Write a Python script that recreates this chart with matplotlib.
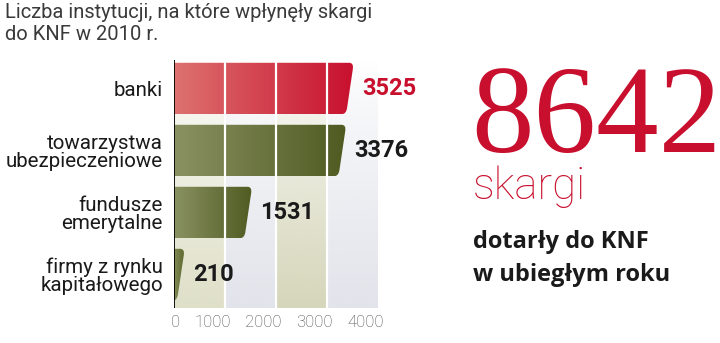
import numpy as np
import matplotlib
matplotlib.use("Agg")
import matplotlib.pyplot as plt
from matplotlib.patches import PathPatch
from matplotlib.path import Path
from matplotlib.colors import to_rgb
import matplotlib.transforms as mtransforms

# data
categories = ["banki", "towarzystwa\nubezpieczeniowe", "fundusze\nemerytalne",
              "firmy z rynku\nkapitałowego"]
values = [3525, 3376, 1531, 210]
xticks = [0, 1000, 2000, 3000, 4000]
total = "8642"

RED = "#c8102e"
bar_left = ["#dd7270", "#8a9262", "#8a9262", "#838c56"]
bar_right = ["#c8102e", "#4f5a21", "#4f5a21", "#5b652b"]
col_colors = ["#dfe0c8", "#e2e4eb", "#d5d6ba", "#e2e4eb"]

W, H = 720, 343
fig = plt.figure(figsize=(W / 100, H / 100), dpi=100)
fig.patch.set_facecolor("white")

def fx(px):
    return px / W

def fy(py):
    return 1 - py / H

ax = fig.add_axes([fx(174), fy(308), fx(378) - fx(174), fy(60) - fy(308)])
ymin, ymax = -0.46, 3.54
ax.set_xlim(0, 4000)
ax.set_ylim(ymax, ymin)

# background columns, fading to white towards the top
for i in range(len(xticks) - 1):
    rgba = np.zeros((100, 1, 4))
    rgba[:, 0, :3] = to_rgb(col_colors[i])
    rgba[:, 0, 3] = np.linspace(0, 1, 100) ** 0.8
    ax.imshow(rgba, extent=(xticks[i], xticks[i + 1], ymax, ymin),
              aspect="auto", origin="upper", zorder=0, interpolation="bilinear")

# bars: slanted right end with rounded corners, horizontal gradient
h = 0.83
slant = 150
rx, f = 90, 0.12
for i, v in enumerate(values):
    y0, y1 = i - h / 2, i + h / 2
    verts = [(0, y0), (v - rx, y0), (v, y0), (v - slant * f, y0 + h * f),
             (v - slant * (1 - f), y1 - h * f), (v - slant, y1),
             (max(v - slant - rx, 0), y1), (0, y1), (0, y0)]
    codes = [Path.MOVETO, Path.LINETO, Path.CURVE3, Path.CURVE3, Path.LINETO,
             Path.CURVE3, Path.CURVE3, Path.LINETO, Path.CLOSEPOLY]
    patch = PathPatch(Path(verts, codes), facecolor="none", edgecolor="none", zorder=2)
    ax.add_patch(patch)
    t = np.linspace(0, 1, 256)
    c0, c1 = np.array(to_rgb(bar_left[i])), np.array(to_rgb(bar_right[i]))
    grad = (c0[None, :] * (1 - t[:, None]) + c1[None, :] * t[:, None])[None, :, :]
    im = ax.imshow(grad, extent=(0, v, y1, y0), aspect="auto", origin="upper",
                   zorder=2, interpolation="bilinear")
    im.set_clip_path(patch)
    ax.annotate(str(v), xy=(v, i), xytext=(8, 0), textcoords="offset pixels",
                ha="left", va="center", fontsize=17, fontweight="bold",
                family="Roboto", color=RED if i == 0 else "#1a1a1a", zorder=5)

for x in xticks[1:-1]:
    ax.axvline(x, color="white", lw=1.6, zorder=3)
ax.axvline(0, color="black", lw=1.3, zorder=4)

ax.set_xlim(0, 4000)
ax.set_ylim(ymax, ymin)
for s in ax.spines.values():
    s.set_visible(False)

ax.set_yticks(range(len(categories)))
ax.set_yticklabels(categories, fontsize=14.8, family="Roboto", color="#1a1a1a",
                   linespacing=0.95)
ax.tick_params(axis="y", length=0, pad=8)

ax.set_xticks(xticks)
ax.set_xticklabels([str(x) for x in xticks], fontsize=12, family="Roboto",
                   fontweight="light", color="#4a4a4a")
ax.tick_params(axis="x", length=0, pad=5)
shift = mtransforms.ScaledTranslation(6 / 100, 0, fig.dpi_scale_trans)
for lab in ax.get_xticklabels():
    lab.set_horizontalalignment("right")
    lab.set_transform(lab.get_transform() + shift)

# title
fig.text(fx(5), fy(3), "Liczba instytucji, na które wpłynęły skargi\ndo KNF w 2010 r.",
         ha="left", va="top", fontsize=14.5, family="Roboto",
         color="#3a3a3a", linespacing=1.2)

# right side
fig.text(fx(471), fy(152), total, ha="left", va="baseline", fontsize=90,
         family="Liberation Serif", color=RED)
fig.text(fx(473), fy(199), "skargi", ha="left", va="baseline", fontsize=31.5,
         family="Roboto", fontweight="light", color=RED)
fig.text(fx(473), fy(248), "dotarły do KNF", ha="left", va="baseline", fontsize=17,
         family="Open Sans", fontweight="bold", color="#1a1a1a")
fig.text(fx(473), fy(281), "w ubiegłym roku", ha="left", va="baseline", fontsize=17,
         family="Open Sans", fontweight="bold", color="#1a1a1a")

fig.savefig("out.png", dpi=100)
